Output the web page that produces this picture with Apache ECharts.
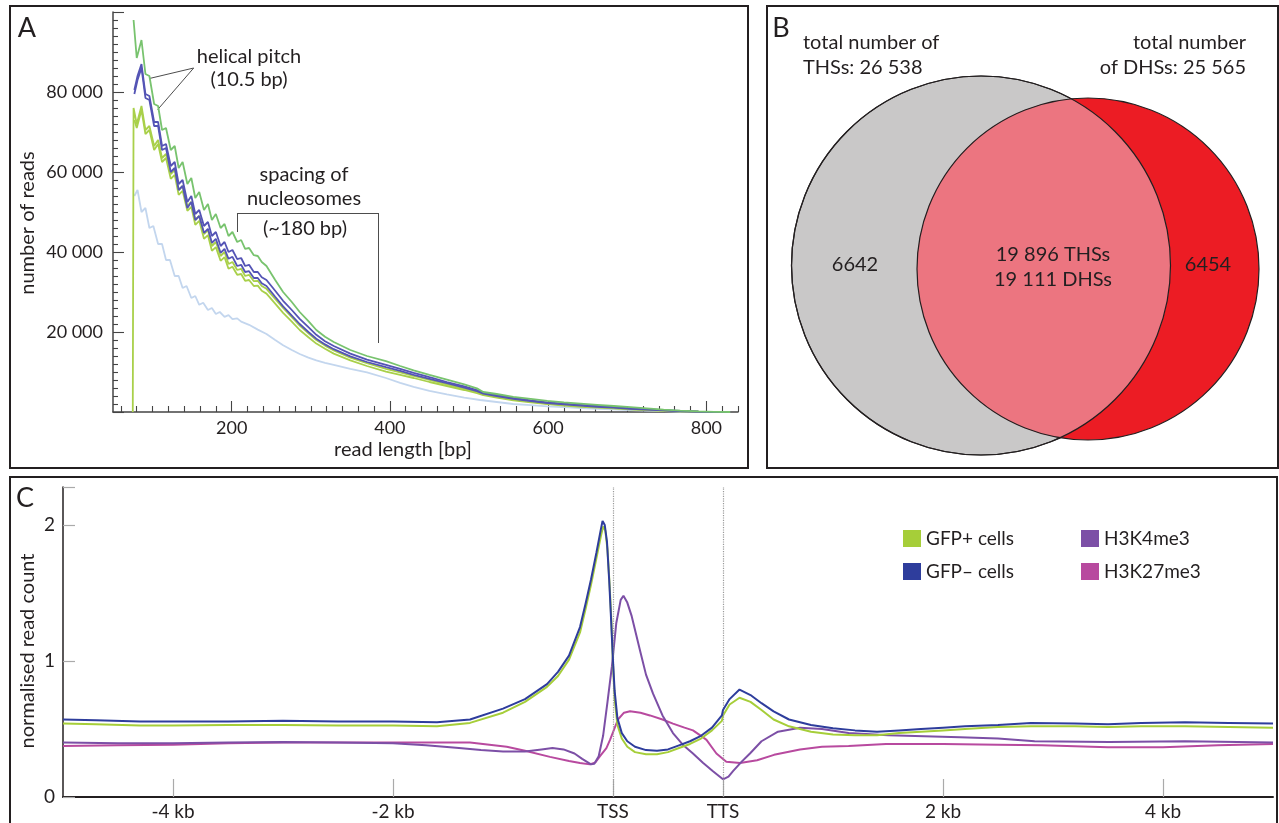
<!DOCTYPE html>
<html>
<head>
<meta charset="utf-8">
<script src="https://cdn.jsdelivr.net/npm/echarts@6/dist/echarts.min.js"></script>
<style>
html, body { margin: 0; padding: 0; background: #fff; }
#chart_main { width: 1279px; height: 823px; }
</style>
</head>
<body>
<div id="chart_main"></div>
<script>
// ---- panel A: read length distribution [bp, reads]
var readLenTicks = [200, 400, 600, 800];
var readsGreen = [[76,98000],[80,88500],[86,93000],[91,84500],[96,84000],[102,77000],[107,76500],[112,70500],[117,71000],[123,65500],[128,66500],[133,61000],[138,62500],[144,57000],[149,58500],[154,53500],[159,55000],[165,50500],[170,52000],[175,48000],[180,49500],[186,46000],[191,47000],[196,44000],[201,45000],[207,42500],[212,43000],[217,40800],[222,41000],[228,39200],[233,39000],[238,37500],[244,36500],[255,33000],[265,30000],[276,27500],[286,25000],[297,22700],[307,20500],[318,18800],[329,17500],[350,15500],[371,14000],[395,12700],[413,11500],[430,10400],[450,9300],[472,8100],[494,6900],[510,5900],[518,5000],[535,4500],[556,3800],[578,3300],[599,2800],[620,2400],[641,2100],[662,1800],[683,1500],[704,1200],[725,900],[746,600],[767,350],[790,150],[810,50],[830,0]];
var readsBlue1 = [[77,80500],[81,84000],[86,87000],[91,79500],[96,79000],[102,72500],[107,72500],[112,66500],[117,67000],[123,61500],[128,62500],[133,57000],[138,58000],[144,52500],[149,54000],[154,49500],[159,50500],[165,46500],[170,47500],[175,44000],[180,45000],[186,41500],[191,42500],[196,40000],[201,40500],[207,38200],[212,38500],[217,36500],[222,36800],[228,35000],[233,35000],[238,33700],[244,33000],[255,30300],[265,27800],[276,25500],[286,23300],[297,21200],[307,19300],[318,17700],[329,16500],[350,14600],[371,13100],[395,11800],[413,10800],[430,9800],[450,8700],[472,7500],[494,6400],[510,5500],[518,4800],[535,4200],[556,3500],[578,2900],[599,2400],[620,2100],[641,1800],[662,1500],[683,1200],[704,900],[725,700],[746,450],[767,250],[790,100],[810,30],[830,0]];
var readsBlue2 = [[77,79500],[81,83000],[86,86000],[91,78500],[96,78000],[102,71500],[107,71500],[112,65500],[117,66000],[123,60000],[128,61000],[133,55500],[138,56500],[144,51000],[149,52500],[154,48000],[159,49000],[165,44800],[170,45800],[175,42300],[180,43300],[186,39800],[191,40800],[196,38300],[201,38800],[207,36500],[212,36800],[217,35000],[222,35200],[228,33500],[233,33500],[238,32200],[244,31500],[255,28800],[265,26400],[276,24100],[286,22000],[297,20000],[307,18300],[318,16900],[329,15700],[350,13900],[371,12500],[395,11200],[413,10300],[430,9300],[450,8300],[472,7200],[494,6100],[510,5200],[518,4600],[535,4000],[556,3300],[578,2700],[599,2200],[620,1900],[641,1600],[662,1300],[683,1100],[704,800],[725,600],[746,400],[767,200],[790,80],[810,20],[830,0]];
var readsYg1 = [[75,0],[76,76000],[80,72000],[86,76500],[91,70500],[96,71500],[102,66500],[107,68000],[112,63500],[117,64500],[123,59500],[128,60500],[133,55500],[138,56500],[144,51500],[149,52500],[154,48000],[159,49000],[165,44500],[170,45500],[175,41500],[180,42500],[186,39000],[191,40000],[196,37000],[201,37500],[207,35500],[212,35800],[217,34000],[222,34300],[228,32700],[233,32800],[238,31500],[244,30800],[255,28300],[265,26000],[276,23700],[286,21600],[297,19700],[307,18000],[318,16600],[329,15400],[350,13600],[371,12200],[395,10800],[413,9900],[430,9000],[450,8000],[472,6900],[494,5800],[510,5000],[518,4400],[535,3800],[556,3100],[578,2600],[599,2100],[620,1800],[641,1500],[662,1200],[683,1000],[704,750],[725,550],[746,350],[767,200],[790,80],[810,20],[830,0]];
var readsYg2 = [[77,73000],[80,71000],[86,75500],[91,69500],[96,70500],[102,65500],[107,67000],[112,62500],[117,63500],[123,58300],[128,59300],[133,54300],[138,55300],[144,50300],[149,51300],[154,46800],[159,47800],[165,43300],[170,44200],[175,40300],[180,41200],[186,37800],[191,38700],[196,35800],[201,36300],[207,34300],[212,34500],[217,32800],[222,33000],[228,31500],[233,31600],[238,30300],[244,29600],[255,27100],[265,24800],[276,22600],[286,20500],[297,18700],[307,17100],[318,15800],[329,14600],[350,12900],[371,11500],[395,10100],[413,9300],[430,8500],[450,7500],[472,6500],[494,5500],[510,4700],[518,4200],[535,3600],[556,2900],[578,2400],[599,2000],[620,1600],[641,1300],[662,1100],[683,900],[704,650],[725,480],[746,300],[767,150],[790,60],[810,15],[830,0]];
var readsLight = [[77,54000],[81,55500],[86,50000],[91,51000],[96,46000],[101,46500],[107,42000],[112,42000],[117,38000],[122,38000],[128,34000],[133,34000],[138,31000],[143,31500],[149,28500],[154,29000],[159,26800],[164,27300],[170,25500],[175,26000],[180,24500],[185,25000],[191,23800],[196,24200],[201,23200],[207,23400],[212,22600],[222,21800],[233,20600],[244,19500],[255,18000],[265,16700],[276,15500],[286,14500],[297,13600],[307,12900],[318,12300],[329,11800],[350,10800],[371,9900],[395,8500],[413,7300],[430,6300],[450,5300],[472,4400],[494,3600],[514,3000],[535,2500],[556,2000],[578,1700],[599,1400],[620,1200],[641,1000],[662,800],[683,650],[704,500],[725,350],[746,220],[767,120],[790,50],[810,10],[830,0]];

// ---- panel B: overlap counts
var thsTotal = 26538, dhsTotal = 25565;
var thsOnly = 6642, dhsOnly = 6454;
var sharedThs = 19896, sharedDhs = 19111;
// circles [cx, cy, r] in the venn grid's units
var vennCircles = [[214, 259.5, 189.5], [321, 263, 171]];

// ---- panel C: profile around genes (TSS = 0, TTS = 1000, scaled gene body)
var profileTicks = [-4000, -2000, 0, 1000, 3000, 5000];
var profileTickLabels = ['-4 kb', '-2 kb', 'TSS', 'TTS', '2 kb', '4 kb'];
var gfpMinus = [[-5000,0.57],[-4700,0.565],[-4300,0.555],[-4000,0.555],[-3500,0.555],[-3000,0.56],[-2500,0.555],[-2000,0.555],[-1600,0.55],[-1300,0.57],[-1000,0.65],[-800,0.72],[-600,0.83],[-500,0.92],[-400,1.04],[-300,1.25],[-250,1.42],[-200,1.6],[-150,1.8],[-110,1.97],[-95,2.03],[-75,2.0],[-55,1.88],[-35,1.6],[-20,1.35],[0,1.0],[15,0.78],[40,0.58],[80,0.47],[130,0.41],[200,0.37],[300,0.345],[400,0.34],[500,0.35],[600,0.38],[700,0.41],[800,0.45],[900,0.51],[990,0.6],[1000,0.64],[1060,0.72],[1150,0.79],[1250,0.75],[1350,0.69],[1460,0.63],[1600,0.57],[1800,0.53],[2000,0.505],[2200,0.49],[2400,0.48],[2600,0.49],[2800,0.5],[3000,0.51],[3200,0.52],[3500,0.53],[3800,0.545],[4200,0.54],[4500,0.535],[4800,0.545],[5200,0.55],[5600,0.545],[6000,0.54]];
var gfpPlus = [[-5000,0.54],[-4700,0.535],[-4300,0.525],[-4000,0.525],[-3500,0.53],[-3000,0.53],[-2500,0.525],[-2000,0.525],[-1600,0.52],[-1300,0.545],[-1000,0.62],[-800,0.7],[-600,0.81],[-500,0.89],[-400,1.01],[-300,1.21],[-250,1.38],[-200,1.56],[-150,1.76],[-110,1.92],[-90,1.99],[-70,1.96],[-50,1.82],[-30,1.55],[-15,1.3],[0,0.98],[15,0.72],[40,0.53],[80,0.43],[130,0.37],[200,0.33],[300,0.315],[400,0.315],[500,0.33],[600,0.36],[700,0.39],[800,0.43],[900,0.49],[990,0.56],[1000,0.6],[1060,0.68],[1150,0.73],[1250,0.7],[1350,0.64],[1460,0.57],[1600,0.52],[1800,0.48],[2000,0.46],[2200,0.455],[2400,0.455],[2600,0.47],[2800,0.48],[3000,0.49],[3200,0.5],[3500,0.515],[3800,0.52],[4200,0.52],[4500,0.515],[4800,0.52],[5200,0.52],[5600,0.515],[6000,0.51]];
var h3k4me3 = [[-5000,0.4],[-4500,0.395],[-4000,0.395],[-3500,0.4],[-3000,0.405],[-2500,0.4],[-2000,0.395],[-1700,0.38],[-1400,0.36],[-1200,0.345],[-1000,0.335],[-800,0.335],[-650,0.35],[-550,0.36],[-450,0.35],[-350,0.32],[-280,0.28],[-200,0.24],[-170,0.245],[-130,0.3],[-90,0.45],[-50,0.7],[-10,0.96],[30,1.28],[70,1.45],[95,1.48],[130,1.43],[170,1.33],[245,1.08],[300,0.9],[364,0.76],[450,0.6],[545,0.47],[640,0.38],[727,0.32],[820,0.25],[909,0.19],[1000,0.13],[1050,0.15],[1091,0.19],[1170,0.26],[1245,0.32],[1350,0.41],[1500,0.48],[1700,0.51],[1900,0.5],[2142,0.47],[2500,0.455],[3155,0.44],[3500,0.43],[3833,0.41],[4510,0.405],[5200,0.41],[6000,0.4]];
var h3k27me3 = [[-5000,0.375],[-4500,0.38],[-4000,0.385],[-3500,0.395],[-3000,0.4],[-2500,0.4],[-2000,0.4],[-1600,0.4],[-1300,0.4],[-966,0.37],[-800,0.34],[-573,0.295],[-400,0.265],[-300,0.25],[-210,0.24],[-160,0.255],[-118,0.3],[-60,0.36],[-27,0.42],[45,0.57],[100,0.62],[155,0.63],[250,0.62],[336,0.6],[450,0.57],[545,0.54],[650,0.51],[727,0.49],[800,0.45],[850,0.42],[940,0.32],[1030,0.26],[1155,0.25],[1310,0.27],[1464,0.31],[1700,0.35],[1900,0.37],[2142,0.375],[2482,0.39],[3000,0.39],[3500,0.385],[3900,0.38],[4500,0.365],[5000,0.365],[5500,0.38],[6000,0.39]];
</script>
<script>
(function () {
    var FONT = "Lato, 'Open Sans', sans-serif";
    var INK = '#231f20';

    function fmt(n) {
        return n >= 10000 ? String(n).replace(/\B(?=(\d{3})+(?!\d))/g, ' ') : String(n);
    }

    // minor tick positions for panel A
    var minorX = [];
    for (var v = 60; v <= 840; v += 20) {
        if (readLenTicks.indexOf(v) < 0) minorX.push(v);
    }
    var minorY = [];
    for (var w = 2000; w < 100000; w += 2000) {
        if (w % 20000 !== 0) minorY.push(w);
    }

    function vennItem(params, api) {
        var c = vennCircles.map(function (v) {
            var p = api.coord([v[0], v[1]]);
            return {x: p[0], y: p[1], r: api.size([v[2], 0])[0]};
        });
        if (params.dataIndex === 0) {
            return {type: 'circle', shape: {cx: c[0].x, cy: c[0].y, r: c[0].r},
                style: {fill: '#c9c8c8', stroke: INK, lineWidth: 1.2}};
        }
        var dx = c[1].x - c[0].x, dy = c[1].y - c[0].y, d = Math.sqrt(dx * dx + dy * dy);
        var a = (c[0].r * c[0].r - c[1].r * c[1].r + d * d) / (2 * d);
        var h = Math.sqrt(c[0].r * c[0].r - a * a);
        var px = c[0].x + a * dx / d, py = c[0].y + a * dy / d;
        var i1 = [px - h * dy / d, py + h * dx / d], i2 = [px + h * dy / d, py - h * dx / d];

        function arc(cc, from, to, toward) {
            var t0 = Math.atan2(from[1] - cc.y, from[0] - cc.x);
            var t1 = Math.atan2(to[1] - cc.y, to[0] - cc.x);
            var tw = Math.atan2(toward.y - cc.y, toward.x - cc.x);
            var dt = t1 - t0;
            while (dt > Math.PI) dt -= 2 * Math.PI;
            while (dt < -Math.PI) dt += 2 * Math.PI;
            if (Math.cos(t0 + dt / 2 - tw) < 0) dt = dt > 0 ? dt - 2 * Math.PI : dt + 2 * Math.PI;
            var pts = [];
            for (var k = 0; k <= 80; k++) {
                var t = t0 + dt * k / 80;
                pts.push([cc.x + cc.r * Math.cos(t), cc.y + cc.r * Math.sin(t)]);
            }
            return pts;
        }
        var lens = arc(c[1], i1, i2, c[0]).concat(arc(c[0], i2, i1, c[1]));
        return {
            type: 'group',
            children: [
                {type: 'circle', shape: {cx: c[1].x, cy: c[1].y, r: c[1].r}, style: {fill: '#ec1c24'}},
                {type: 'polygon', shape: {points: lens}, style: {fill: '#ec7580'}},
                {type: 'circle', shape: {cx: c[0].x, cy: c[0].y, r: c[0].r}, style: {fill: null, stroke: INK, lineWidth: 1.2}},
                {type: 'circle', shape: {cx: c[1].x, cy: c[1].y, r: c[1].r}, style: {fill: null, stroke: INK, lineWidth: 1.2}}
            ]
        };
    }

    function txt(x, y, text, opt) {
        opt = opt || {};
        return {
            type: 'text', x: x, y: y, z: 100, rotation: opt.rotation || 0, silent: true,
            style: {text: text, fill: INK, font: (opt.size || 20) + 'px ' + FONT,
                align: opt.align || 'center', verticalAlign: 'middle'}
        };
    }

    function box(x, y, w, h) {
        return {type: 'rect', z: 100, shape: {x: x, y: y, width: w, height: h}, silent: true,
            style: {fill: null, stroke: INK, lineWidth: 2}};
    }

    function aLine(name, data, color, z) {
        return {
            name: name, type: 'line', data: data, xAxisIndex: 0, yAxisIndex: 0,
            showSymbol: false, symbol: 'none', z: z,
            lineStyle: {color: color, width: 1.8}
        };
    }

    function cLine(name, data, color, z) {
        return {
            name: name, type: 'line', data: data, xAxisIndex: 2, yAxisIndex: 1,
            showSymbol: false, symbol: 'none', z: z,
            itemStyle: {color: color},
            lineStyle: {color: color, width: 2}
        };
    }

    var myChart = echarts.init(document.getElementById('chart_main'));
    var labelStyle = {color: INK, fontSize: 18, fontFamily: FONT};
    var tickStyle = {color: '#444', width: 1.1};

    var greenSeries = aLine('green', readsGreen, '#78c36e', 6);
    greenSeries.markLine = {
        silent: true, symbol: ['none', 'none'], label: {show: false},
        lineStyle: {color: '#4d4d4d', width: 1, type: 'solid'},
        data: [
            [{coord: [152, 86000]}, {coord: [96.6, 83400]}],
            [{coord: [152, 86000]}, {coord: [106.5, 75600]}],
            [{coord: [206.7, 49750]}, {coord: [206.7, 45000]}],
            [{coord: [206.7, 49750]}, {coord: [385, 49750]}],
            [{coord: [385, 49750]}, {coord: [385, 17250]}]
        ]
    };

    var gfpMinusSeries = cLine('GFP– cells', gfpMinus, '#2e3d9c', 5);
    gfpMinusSeries.markLine = {
        silent: true, symbol: ['none', 'none'], label: {show: false},
        lineStyle: {color: '#9a9a9a', width: 1.2, type: 'dotted'},
        data: [{xAxis: 0}, {xAxis: 1000}]
    };

    var option = {
        animation: false,
        backgroundColor: '#fff',
        textStyle: {fontFamily: FONT},
        grid: [
            {left: 113, top: 12, width: 625, height: 400, outerBoundsMode: 'none'},
            {left: 63, top: 487, width: 1210, height: 310, outerBoundsMode: 'none'},
            {left: 767, top: 6, width: 512, height: 462, outerBoundsMode: 'none'}
        ],
        xAxis: [
            {
                type: 'value', gridIndex: 0, min: 50, max: 840, position: 'bottom',
                axisLine: {onZero: false, lineStyle: {color: '#444', width: 1.5}},
                axisTick: {inside: true, length: 11, customValues: readLenTicks, lineStyle: tickStyle},
                axisLabel: Object.assign({customValues: readLenTicks, margin: 7}, labelStyle),
                splitLine: {show: false}
            },
            {
                type: 'value', gridIndex: 0, min: 50, max: 840, position: 'bottom',
                axisLine: {show: false, onZero: false},
                axisTick: {inside: true, length: 6, customValues: minorX, lineStyle: tickStyle},
                axisLabel: {show: false},
                splitLine: {show: false}
            },
            {
                type: 'value', gridIndex: 1, min: -5000, max: 6000,
                axisLine: {onZero: false, lineStyle: {color: INK, width: 2}},
                axisTick: {inside: true, length: 18, customValues: profileTicks, lineStyle: {color: '#aaa', width: 1.2}},
                axisLabel: {
                    customValues: profileTicks, margin: 5, fontSize: 19, color: INK, fontFamily: FONT,
                    formatter: function (v) { return profileTickLabels[profileTicks.indexOf(v)]; }
                },
                splitLine: {show: false}
            },
            {type: 'value', gridIndex: 2, min: 0, max: 512, show: false}
        ],
        yAxis: [
            {
                type: 'value', gridIndex: 0, min: 0, max: 100000, interval: 20000, position: 'left',
                axisLine: {show: true, onZero: false, lineStyle: {color: '#444', width: 1.5}},
                axisTick: {show: true, inside: true, length: 11, lineStyle: tickStyle},
                axisLabel: Object.assign({
                    margin: 10,
                    formatter: function (v) { return (v === 0 || v === 100000) ? '' : fmt(v); }
                }, labelStyle),
                splitLine: {show: false}
            },
            {
                type: 'value', gridIndex: 1, min: 0, max: 2.28, interval: 1,
                axisLine: {show: true, onZero: false, lineStyle: {color: INK, width: 1.5}},
                axisTick: {show: true, inside: true, length: 12, lineStyle: {color: '#aaa', width: 1.2}},
                axisLabel: {
                    margin: 8, fontSize: 19, color: INK, fontFamily: FONT,
                    formatter: function (v) { return v % 1 === 0 ? String(v) : ''; }
                },
                splitLine: {show: false}
            },
            {type: 'value', gridIndex: 2, min: 0, max: 462, inverse: true, show: false},
            {
                type: 'value', gridIndex: 0, min: 0, max: 100000, position: 'left',
                axisLine: {show: false, onZero: false},
                axisTick: {show: true, inside: true, length: 5, customValues: minorY, lineStyle: tickStyle},
                axisLabel: {show: false},
                splitLine: {show: false}
            }
        ],
        legend: [
            {
                data: ['GFP+ cells', 'GFP– cells'], left: 898, top: 524, orient: 'vertical',
                icon: 'rect', itemWidth: 18, itemHeight: 17, itemGap: 14,
                textStyle: {color: INK, fontSize: 19, fontFamily: FONT}
            },
            {
                data: ['H3K4me3', 'H3K27me3'], left: 1076, top: 524, orient: 'vertical',
                icon: 'rect', itemWidth: 18, itemHeight: 17, itemGap: 14,
                textStyle: {color: INK, fontSize: 19, fontFamily: FONT}
            }
        ],
        series: [
            aLine('light', readsLight, '#c3d6ee', 2),
            aLine('yg2', readsYg2, '#a9d04a', 3),
            aLine('yg1', readsYg1, '#a9d04a', 3),
            aLine('blue2', readsBlue2, '#5454b5', 4),
            aLine('blue1', readsBlue1, '#5454b5', 4),
            greenSeries,
            cLine('H3K27me3', h3k27me3, '#b84a9f', 2),
            cLine('H3K4me3', h3k4me3, '#7c4fa6', 3),
            cLine('GFP+ cells', gfpPlus, '#a6ce39', 4),
            gfpMinusSeries,
            {
                type: 'custom', xAxisIndex: 3, yAxisIndex: 2, clip: false, silent: true, z: 1,
                data: vennCircles, renderItem: vennItem
            }
        ],
        graphic: [
            box(10, 6, 738, 462),
            box(767, 6, 511, 462),
            box(10, 477, 1267, 360),
            txt(27, 28, 'A', {size: 27}),
            txt(781, 28, 'B', {size: 27}),
            txt(25, 498, 'C', {size: 27}),
            txt(249, 57, 'helical pitch'),
            txt(249, 80, '(10.5 bp)'),
            txt(304, 175, 'spacing of'),
            txt(304, 199, 'nucleosomes'),
            txt(305, 229, '(~180 bp)'),
            txt(403, 450, 'read length [bp]'),
            txt(28, 223, 'number of reads', {rotation: Math.PI / 2}),
            txt(28, 651, 'normalised read count', {rotation: Math.PI / 2}),
            txt(803, 43, 'total number of', {align: 'left'}),
            txt(803, 68, 'THSs: ' + fmt(thsTotal), {align: 'left'}),
            txt(1246, 43, 'total number', {align: 'right'}),
            txt(1246, 68, 'of DHSs: ' + fmt(dhsTotal), {align: 'right'}),
            txt(855, 265, fmt(thsOnly)),
            txt(1053, 255, fmt(sharedThs) + ' THSs'),
            txt(1053, 280, fmt(sharedDhs) + ' DHSs'),
            txt(1208, 265, fmt(dhsOnly))
        ]
    };

    myChart.setOption(option);
})();
</script>
</body>
</html>
